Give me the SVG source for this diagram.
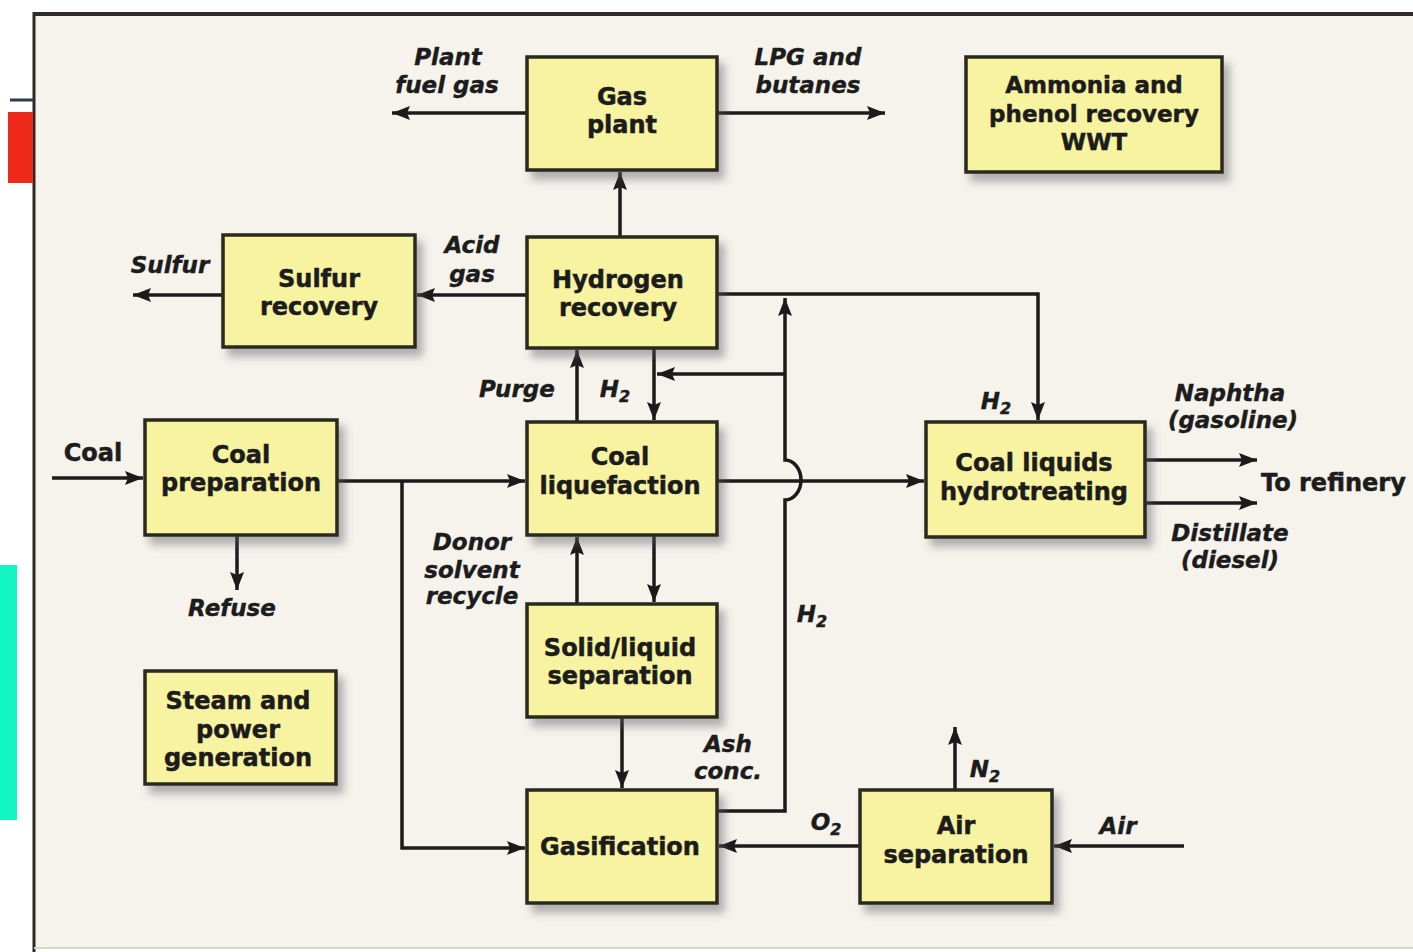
<svg xmlns="http://www.w3.org/2000/svg" width="1413" height="952" viewBox="0 0 1413 952">
<defs>
<filter id="sh" x="-10%" y="-10%" width="130%" height="140%">
<feDropShadow dx="6" dy="8" stdDeviation="4" flood-color="#5a5660" flood-opacity="0.45"/>
</filter>
<marker id="ah" viewBox="0 0 18 14" refX="18" refY="7" markerWidth="18" markerHeight="14" markerUnits="userSpaceOnUse" orient="auto">
<path d="M0,0 L18,7 L0,14 L3,7 z" fill="#1b1b1b"/>
</marker>
<style>
.box{fill:#f8f3a0;stroke:#2a2a1e;stroke-width:3.5;filter:url(#sh)}
.t{font-family:"DejaVu Sans","Liberation Sans",sans-serif;font-weight:bold;font-size:24px;fill:#1c1c1c;stroke:#1c1c1c;stroke-width:0.5;text-anchor:middle}
.l{font-family:"DejaVu Sans","Liberation Sans",sans-serif;font-weight:bold;font-style:italic;font-size:23px;fill:#1c1c1c;stroke:#1c1c1c;stroke-width:0.4;text-anchor:middle}
.s{font-size:16px}
.c{fill:none;stroke:#1b1b1b;stroke-width:3.5}
.a{marker-end:url(#ah)}
</style>
</defs>
<rect width="1413" height="952" fill="#ffffff"/>
<rect x="34" y="14" width="1379" height="934" fill="#f5f3ec"/>
<line x1="33" y1="14" x2="1413" y2="14" stroke="#302a30" stroke-width="4"/>
<line x1="34" y1="12" x2="34" y2="952" stroke="#2a2a2a" stroke-width="3"/>
<line x1="34" y1="948" x2="1413" y2="948" stroke="#d9d7d0" stroke-width="2"/>
<line x1="10" y1="100" x2="34" y2="100" stroke="#2d3a55" stroke-width="3"/>
<rect x="8" y="112" width="25" height="71" fill="#ee2a1a"/>
<rect x="0" y="565" width="17" height="255" fill="#14f5c4"/>

<g id="connectors">
<path class="c a" d="M620,236 L620,172"/>
<path class="c a" d="M527,113 L392,113"/>
<path class="c a" d="M717,113 L885,113"/>
<path class="c a" d="M527,295 L417,295"/>
<path class="c a" d="M223,295 L133,295"/>
<path class="c a" d="M717,294 L1038,294 L1038,420"/>
<path class="c a" d="M717,811 L785,811 L785,500 A16 20 0 0 0 785,460 L785,298"/>
<path class="c a" d="M785,374 L657,374"/>
<path class="c a" d="M654,349 L654,420"/>
<path class="c a" d="M577,422 L577,350"/>
<path class="c a" d="M337,481 L525,481"/>
<path class="c a" d="M402,481 L402,848 L525,848"/>
<path class="c a" d="M52,478 L143,478"/>
<path class="c a" d="M237,536 L237,590"/>
<path class="c a" d="M717,481 L924,481"/>
<path class="c a" d="M654,536 L654,602"/>
<path class="c a" d="M577,604 L577,537"/>
<path class="c a" d="M622,718 L622,788"/>
<path class="c a" d="M860,846 L719,846"/>
<path class="c a" d="M955,790 L955,727"/>
<path class="c a" d="M1184,846 L1054,846"/>
<path class="c a" d="M1145,460 L1257,460"/>
<path class="c a" d="M1145,503 L1257,503"/>
</g>

<g id="labels">
<text class="l" x="448" y="65">Plant</text>
<text class="l" x="447" y="93">fuel gas</text>
<text class="l" x="808" y="65">LPG and</text>
<text class="l" x="808" y="93">butanes</text>
<text class="l" x="472" y="253">Acid</text>
<text class="l" x="472" y="282">gas</text>
<text class="l" x="170" y="273">Sulfur</text>
<text class="t" x="93" y="461">Coal</text>
<text class="l" x="232" y="616">Refuse</text>
<text class="l" x="517" y="397">Purge</text>
<text class="l" x="615" y="397">H<tspan class="s" dy="5">2</tspan></text>
<text class="l" x="472" y="550">Donor</text>
<text class="l" x="472" y="578">solvent</text>
<text class="l" x="472" y="604">recycle</text>
<text class="l" x="812" y="622">H<tspan class="s" dy="5">2</tspan></text>
<text class="l" x="728" y="752">Ash</text>
<text class="l" x="728" y="779">conc.</text>
<text class="l" x="826" y="830">O<tspan class="s" dy="5">2</tspan></text>
<text class="l" x="985" y="777">N<tspan class="s" dy="5">2</tspan></text>
<text class="l" x="1118" y="834">Air</text>
<text class="l" x="996" y="409">H<tspan class="s" dy="5">2</tspan></text>
<text class="l" x="1230" y="401">Naphtha</text>
<text class="l" x="1233" y="428">(gasoline)</text>
<text class="t" x="1261" y="491" style="text-anchor:start">To refinery</text>
<text class="l" x="1230" y="541">Distillate</text>
<text class="l" x="1230" y="568">(diesel)</text>
</g>

<g id="gas-plant">
<rect class="box" x="527" y="57" width="190" height="113"/>
<text class="t" x="622" y="105">Gas</text>
<text class="t" x="622" y="133">plant</text>
</g>
<g id="ammonia">
<rect class="box" x="966" y="57" width="256" height="115"/>
<text class="t" x="1094" y="93" style="font-size:23px">Ammonia and</text>
<text class="t" x="1094" y="122" style="font-size:23px">phenol recovery</text>
<text class="t" x="1094" y="150" style="font-size:23px">WWT</text>
</g>
<g id="sulfur-recovery">
<rect class="box" x="223" y="235" width="192" height="112"/>
<text class="t" x="319" y="287">Sulfur</text>
<text class="t" x="319" y="315">recovery</text>
</g>
<g id="hydrogen-recovery">
<rect class="box" x="527" y="237" width="190" height="111"/>
<text class="t" x="618" y="288">Hydrogen</text>
<text class="t" x="618" y="316">recovery</text>
</g>
<g id="coal-preparation">
<rect class="box" x="145" y="420" width="192" height="115"/>
<text class="t" x="241" y="463">Coal</text>
<text class="t" x="241" y="491">preparation</text>
</g>
<g id="coal-liquefaction">
<rect class="box" x="527" y="422" width="190" height="113"/>
<text class="t" x="620" y="465">Coal</text>
<text class="t" x="620" y="494">liquefaction</text>
</g>
<g id="hydrotreating">
<rect class="box" x="926" y="422" width="219" height="115"/>
<text class="t" x="1034" y="471">Coal liquids</text>
<text class="t" x="1034" y="500">hydrotreating</text>
</g>
<g id="solid-liquid">
<rect class="box" x="527" y="604" width="190" height="113"/>
<text class="t" x="620" y="656">Solid/liquid</text>
<text class="t" x="620" y="684">separation</text>
</g>
<g id="steam-power">
<rect class="box" x="145" y="671" width="191" height="113"/>
<text class="t" x="238" y="709">Steam and</text>
<text class="t" x="238" y="738">power</text>
<text class="t" x="238" y="766">generation</text>
</g>
<g id="gasification">
<rect class="box" x="527" y="790" width="190" height="113"/>
<text class="t" x="620" y="855">Gasification</text>
</g>
<g id="air-separation">
<rect class="box" x="860" y="790" width="192" height="113"/>
<text class="t" x="956" y="834">Air</text>
<text class="t" x="956" y="863">separation</text>
</g>
</svg>
